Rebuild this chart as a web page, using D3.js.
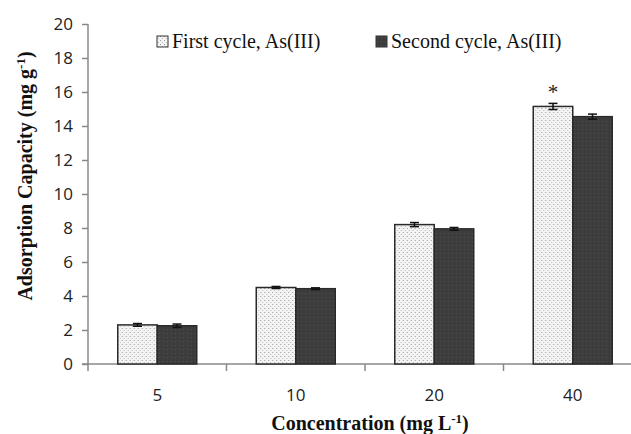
<!DOCTYPE html>
<html>
<head>
<meta charset="utf-8">
<script src="https://cdn.jsdelivr.net/npm/d3@7"></script>
<style>
  body { margin: 0; background: #fff; }
  .tick text { font-family: "Open Sans", "Liberation Sans", sans-serif; font-size: 17px; fill: #222; }
</style>
</head>
<body>
<svg width="631" height="434"></svg>
<script>
var concentrations = ["5", "10", "20", "40"];
var seriesNames = ["First cycle, As(III)", "Second cycle, As(III)"];
var firstCycle = [2.3, 4.5, 8.2, 15.15];
var secondCycle = [2.25, 4.43, 7.95, 14.55];
var firstErr = [0.08, 0.06, 0.12, 0.18];
var secondErr = [0.1, 0.05, 0.08, 0.15];
var yTicks = [0, 2, 4, 6, 8, 10, 12, 14, 16, 18, 20];

var svg = d3.select("svg");

var defs = svg.append("defs");
var p1 = defs.append("pattern").attr("id", "dots1")
  .attr("width", 4).attr("height", 4).attr("patternUnits", "userSpaceOnUse");
p1.append("rect").attr("width", 4).attr("height", 4).attr("fill", "#f4f4f4");
p1.append("rect").attr("x", 0).attr("y", 0).attr("width", 1).attr("height", 1).attr("fill", "#999");
p1.append("rect").attr("x", 2).attr("y", 2).attr("width", 1).attr("height", 1).attr("fill", "#bbb");
var p2 = defs.append("pattern").attr("id", "dots2")
  .attr("width", 4).attr("height", 4).attr("patternUnits", "userSpaceOnUse");
p2.append("rect").attr("width", 4).attr("height", 4).attr("fill", "#3c3c3c");
p2.append("rect").attr("x", 1).attr("y", 1).attr("width", 1).attr("height", 1).attr("fill", "#555");

var x = d3.scaleBand().domain(concentrations).range([88, 642]).paddingInner(0).paddingOuter(0);
var y = d3.scaleLinear().domain([0, 20]).range([364, 24]);
var inner = d3.scaleBand().domain([0, 1]).range([0, 79]);

// y axis
var yAxis = svg.append("g").attr("transform", "translate(88,0)")
  .call(d3.axisLeft(y).tickValues(yTicks).tickSize(6).tickPadding(9));
yAxis.select(".domain").attr("stroke", "#888").attr("stroke-width", 1.5).attr("d", "M0," + y(20) + "V" + y(0));
yAxis.selectAll(".tick line").attr("stroke", "#888").attr("stroke-width", 1.5);

// x axis
var xAxis = svg.append("g").attr("transform", "translate(0," + y(0) + ")");
xAxis.append("line").attr("x1", 82).attr("x2", 631).attr("stroke", "#888").attr("stroke-width", 1.5);
xAxis.selectAll(".xt").data(concentrations).enter().append("line")
  .attr("x1", d => x(d)).attr("x2", d => x(d)).attr("y1", 0).attr("y2", 7)
  .attr("stroke", "#888").attr("stroke-width", 1.5);
xAxis.selectAll(".xl").data(concentrations).enter().append("text")
  .attr("x", d => x(d) + x.bandwidth() / 2).attr("y", 37)
  .attr("text-anchor", "middle")
  .style("font-family", "'Open Sans', 'Liberation Sans', sans-serif").style("font-size", "17px").attr("fill", "#222")
  .text(d => d);

var rows = concentrations.map((c, i) => ({
  c: c,
  vals: [firstCycle[i], secondCycle[i]],
  errs: [firstErr[i], secondErr[i]]
}));

var groups = svg.selectAll(".grp").data(rows).enter().append("g")
  .attr("transform", d => "translate(" + (x(d.c) + (x.bandwidth() - 79) / 2) + ",0)");

groups.selectAll("rect").data(d => d.vals.map((v, k) => ({v: v, k: k, e: d.errs[k]}))).enter()
  .append("rect")
  .attr("x", d => inner(d.k))
  .attr("y", d => y(d.v))
  .attr("width", inner.bandwidth())
  .attr("height", d => y(0) - y(d.v))
  .attr("fill", d => d.k === 0 ? "url(#dots1)" : "url(#dots2)")
  .attr("stroke", "#2a2a2a").attr("stroke-width", 1.5);

var eb = groups.selectAll(".err").data(d => d.vals.map((v, k) => ({v: v, k: k, e: d.errs[k]}))).enter()
  .append("g").attr("stroke", "#111").attr("stroke-width", 1.5);
eb.append("line")
  .attr("x1", d => inner(d.k) + inner.bandwidth() / 2).attr("x2", d => inner(d.k) + inner.bandwidth() / 2)
  .attr("y1", d => y(d.v + d.e)).attr("y2", d => y(d.v - d.e));
eb.append("line")
  .attr("x1", d => inner(d.k) + inner.bandwidth() / 2 - 4.5).attr("x2", d => inner(d.k) + inner.bandwidth() / 2 + 4.5)
  .attr("y1", d => y(d.v + d.e)).attr("y2", d => y(d.v + d.e));
eb.append("line")
  .attr("x1", d => inner(d.k) + inner.bandwidth() / 2 - 4.5).attr("x2", d => inner(d.k) + inner.bandwidth() / 2 + 4.5)
  .attr("y1", d => y(d.v - d.e)).attr("y2", d => y(d.v - d.e));

// significance star on 40 first cycle
svg.append("text")
  .attr("x", x("40") + (x.bandwidth() - 79) / 2 + inner(0) + inner.bandwidth() / 2)
  .attr("y", y(firstCycle[3] + firstErr[3]))
  .attr("dy", -4)
  .attr("text-anchor", "middle")
  .style("font-family", "'Liberation Serif', serif").style("font-size", "21px").attr("fill", "#222")
  .text("*");

// legend
var legend = svg.append("g").style("font-family", "'Liberation Serif', 'Times New Roman', serif").style("font-size", "20px");
var legX = [157, 376];
seriesNames.forEach((name, k) => {
  legend.append("rect").attr("x", legX[k]).attr("y", 36).attr("width", 11).attr("height", 11)
    .attr("fill", k === 0 ? "url(#dots1)" : "url(#dots2)").attr("stroke", "#333").attr("stroke-width", 1);
  legend.append("text").attr("x", legX[k] + 15).attr("y", 48).attr("fill", "#111").text(name);
});

// y title
var yt = svg.append("text")
  .attr("transform", "translate(32,176) rotate(-90)")
  .attr("text-anchor", "middle")
  .style("font-family", "'Liberation Serif', 'Times New Roman', serif").style("font-size", "20px").style("font-weight", "bold")
  .attr("fill", "#111");
yt.append("tspan").text("Adsorption Capacity (mg g");
yt.append("tspan").attr("dy", -7).style("font-size", "13px").text("-1");
yt.append("tspan").attr("dy", 7).text(")");

// x title
var xt = svg.append("text")
  .attr("x", 370).attr("y", 430)
  .attr("text-anchor", "middle")
  .style("font-family", "'Liberation Serif', 'Times New Roman', serif").style("font-size", "20px").style("font-weight", "bold")
  .attr("fill", "#111");
xt.append("tspan").text("Concentration (mg L");
xt.append("tspan").attr("dy", -7).style("font-size", "13px").text("-1");
xt.append("tspan").attr("dy", 7).text(")");
</script>
</body>
</html>
